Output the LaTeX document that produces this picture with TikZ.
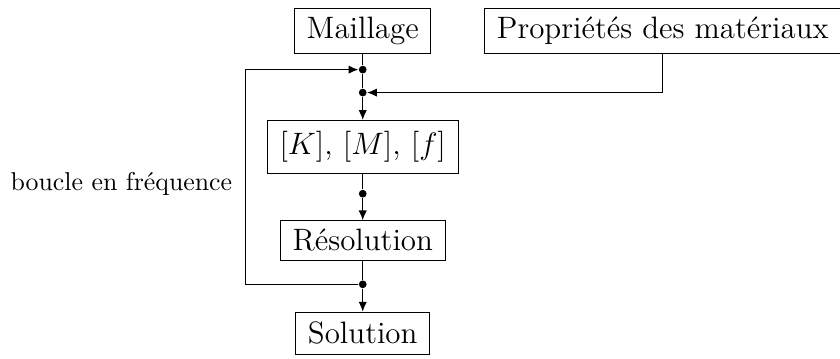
\documentclass[tikz,border=0pt]{standalone}
\usepackage{tikz}
\usetikzlibrary{positioning,arrows.meta}
\begin{document}
\begin{tikzpicture}[b/.style={draw,font=\large,inner xsep=4.7pt,inner ysep=3.3pt},j/.style={circle,fill,inner sep=0pt,minimum size=3pt},>={Latex[length=3.8pt,width=3.2pt]}]
\useasboundingbox (0,0) rectangle (325.6pt,-138.8pt);
\node[b,anchor=north] (m) at (140.6pt,-3.1pt) {Maillage};
\node[b,right=20.5pt of m.north east,anchor=north west] (p) {Propriétés des matériaux};
\node[j,below=4.4pt of m] (d1) {};
\node[j,below=5.5pt of d1] (d2) {};
\node[b,below=25.6pt of m,minimum height=20.5pt] (k) {$[K]$, $[M]$, $[f]$};
\node[j,below=6pt of k] (d3) {};
\node[b,below=18pt of k] (r) {Résolution};
\node[j,below=7.5pt of r] (d4) {};
\node[b,below=19.8pt of r,minimum height=16.3pt] (s) {Solution};
\coordinate[left=43.7pt of d4] (c4); \coordinate (c1) at (c4 |- d1);
\draw (m)--(d1)--(d2); \draw[->] (d2)--(k);
\draw[->] (p.south)|-(d2);
\draw (k)--(d3); \draw[->] (d3)--(r);
\draw (r)--(d4); \draw[->] (d4)--(s);
\draw[->] (d4)--(c4)--node[left=1.7pt,pos=0.47]{boucle en fréquence}(c1)--(d1);
\end{tikzpicture}
\end{document}
